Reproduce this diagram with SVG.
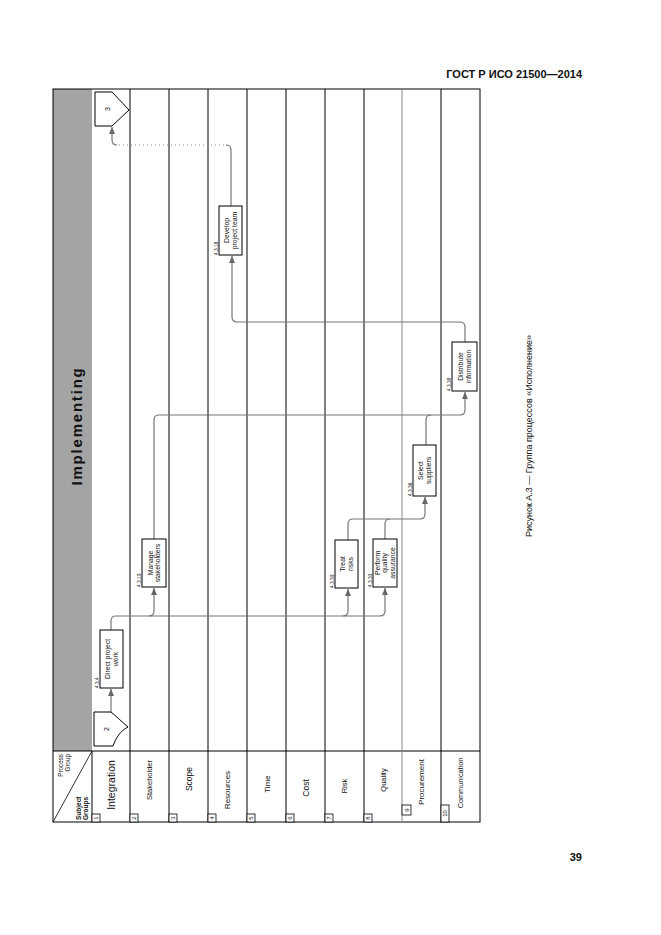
<svg xmlns="http://www.w3.org/2000/svg" width="661" height="935" viewBox="0 0 661 935">
<style>
text{font-family:"Liberation Sans",Arial,sans-serif;fill:#111}
.lane{stroke:#000;stroke-width:1;fill:none}
.box{fill:#fff;stroke:#000;stroke-width:1}
.bt{font-size:6.8px;text-anchor:middle}
.id{font-size:4.8px}
.ln{text-anchor:middle}
.nb{fill:#fff;stroke:#000;stroke-width:0.8}
.nt{font-size:6px;text-anchor:middle}
.con{fill:none;stroke:#777;stroke-width:1.2}
.dot{fill:none;stroke:#888;stroke-width:1.2;stroke-dasharray:1 3}
</style>
<defs>
<marker id="ah" markerWidth="7" markerHeight="6" refX="7" refY="3" orient="auto" markerUnits="userSpaceOnUse"><path d="M0,0 L7,3 L0,6 Z" fill="#666"/></marker>
</defs>
<rect width="661" height="935" fill="#fff"/>

<text x="582" y="78" font-size="11" font-weight="bold" text-anchor="end">ГОСТ Р ИСО 21500—2014</text>
<text x="582" y="861" font-size="11" font-weight="bold" text-anchor="end">39</text>
<text transform="translate(532,436) rotate(-90)" font-size="9" text-anchor="middle">Рисунок А.3 — Группа процессов «Исполнение»</text>

<g id="frame">
<rect x="53" y="89" width="39" height="662" fill="#a4a4a4"/>
<rect x="53" y="89" width="427" height="733" class="lane"/>
<line x1="53" y1="751" x2="480" y2="751" class="lane"/>
<line x1="92" y1="751" x2="92" y2="822" class="lane"/>
<line x1="53" y1="822" x2="92" y2="751" stroke="#000" stroke-width="0.8"/>
<path class="lane" d="M130,89V822M169,89V822M208,89V822M247,89V822M286,89V822M325,89V822M364,89V822M441,89V822"/>
<line x1="402" y1="89" x2="402" y2="822" stroke="#888" stroke-width="1"/>
<text transform="translate(82,426) rotate(-90)" font-size="15" font-weight="bold" letter-spacing="1.8" text-anchor="middle">Implementing</text>
<text transform="translate(63,754) rotate(-90)" font-size="6.3" text-anchor="end">Process<tspan x="0" dy="7.3">Group</tspan></text>
<text transform="translate(81,820) rotate(-90)" font-size="6.5" font-weight="bold">Subject<tspan x="0" dy="7.3">Groups</tspan></text>
</g>

<g id="lanes">
<text class="ln" transform="translate(114.5,785) rotate(-90)" font-size="10.5">Integration</text>
<text class="ln" transform="translate(151.5,780) rotate(-90)" font-size="7.5">Stakeholder</text>
<text class="ln" transform="translate(191.5,779) rotate(-90)" font-size="8.5">Scope</text>
<text class="ln" transform="translate(230,790) rotate(-90)" font-size="8">Resources</text>
<text class="ln" transform="translate(269.5,784) rotate(-90)" font-size="8">Time</text>
<text class="ln" transform="translate(308.5,788) rotate(-90)" font-size="8.5">Cost</text>
<text class="ln" transform="translate(347,786) rotate(-90)" font-size="7.5">Risk</text>
<text class="ln" transform="translate(385.5,780) rotate(-90)" font-size="7.5">Quality</text>
<text class="ln" transform="translate(424,782) rotate(-90)" font-size="8">Procurement</text>
<text class="ln" transform="translate(463,783) rotate(-90)" font-size="7.3">Communication</text>
<rect class="nb" x="92" y="814" width="8" height="8"/><text class="nt" transform="translate(98.2,818) rotate(-90)">1</text>
<rect class="nb" x="130" y="814" width="8" height="8"/><text class="nt" transform="translate(136.2,818) rotate(-90)">2</text>
<rect class="nb" x="169" y="814" width="8" height="8"/><text class="nt" transform="translate(175.2,818) rotate(-90)">3</text>
<rect class="nb" x="208" y="814" width="8" height="8"/><text class="nt" transform="translate(214.2,818) rotate(-90)">4</text>
<rect class="nb" x="247" y="814" width="8" height="8"/><text class="nt" transform="translate(253.2,818) rotate(-90)">5</text>
<rect class="nb" x="286" y="814" width="8" height="8"/><text class="nt" transform="translate(292.2,818) rotate(-90)">6</text>
<rect class="nb" x="325" y="814" width="8" height="8"/><text class="nt" transform="translate(331.2,818) rotate(-90)">7</text>
<rect class="nb" x="364" y="814" width="8" height="8"/><text class="nt" transform="translate(370.2,818) rotate(-90)">8</text>
<rect class="nb" x="402" y="805" width="9" height="10"/><text class="nt" transform="translate(408.7,810) rotate(-90)">9</text>
<rect class="nb" x="441" y="805" width="8" height="17"/><text class="nt" transform="translate(447.2,813.5) rotate(-90)">10</text>
</g>

<g id="connectors">
<path class="con" d="M111,712V689" marker-end="url(#ah)"/>
<path class="con" d="M111,630V621Q111,616 116,616H380Q385,616 385,611V588" marker-end="url(#ah)"/>
<path class="con" d="M149,616Q154,616 154,611V588" marker-end="url(#ah)"/>
<path class="con" d="M343,616Q348,616 348,611V589" marker-end="url(#ah)"/>
<path class="con" d="M154,539V420Q154,415 159,415H460Q465,415 465,410V392" marker-end="url(#ah)"/>
<path class="con" d="M426,445V420Q426,415 431,415"/>
<path class="con" d="M348,540V524Q348,519 353,519H420Q425,519 425,514V497" marker-end="url(#ah)"/>
<path class="con" d="M385,539V524Q385,519 390,519"/>
<path class="con" d="M465,342V327Q465,322 460,322H237Q232,322 232,317V256" marker-end="url(#ah)"/>
<path class="con" d="M231,206V150Q231,145 226,145"/>
<path class="dot" d="M224,145H119"/>
<path class="con" d="M117,145Q112,145 112,140V127" marker-end="url(#ah)"/>
</g>

<g id="node2">
<path class="box" d="M94,712H111C116,716 122,722 128,727C120,731 116,738 113,746H94Z"/>
<text transform="translate(108.5,729) rotate(-90)" font-size="7" text-anchor="middle">2</text>
</g>
<g id="node3">
<path class="box" d="M95,92H112L129,110L112,126H95Z"/>
<text transform="translate(109.5,109) rotate(-90)" font-size="7" text-anchor="middle">3</text>
</g>

<g id="n434">
<rect class="box" x="100" y="630" width="23" height="58"/>
<text class="bt" transform="translate(111.5,659) rotate(-90)" font-size="6.2"><tspan x="0" y="-1.4">Direct project</tspan><tspan x="0" y="6.1">work</tspan></text>
<text class="id" transform="translate(99,688) rotate(-90)">4.3.4</text>
</g>
<g id="n4310">
<rect class="box" x="142" y="539" width="24" height="48"/>
<text class="bt" transform="translate(154,563) rotate(-90)"><tspan x="0" y="-1.4">Manage</tspan><tspan x="0" y="6.1">stakeholders</tspan></text>
<text class="id" transform="translate(141,587) rotate(-90)">4.3.10</text>
</g>
<g id="n4330">
<rect class="box" x="335" y="540" width="23" height="48"/>
<text class="bt" transform="translate(346.5,564) rotate(-90)"><tspan x="0" y="-1.4">Treat</tspan><tspan x="0" y="6.1">risks</tspan></text>
<text class="id" transform="translate(334,588) rotate(-90)">4.3.30</text>
</g>
<g id="n4333">
<rect class="box" x="373" y="539" width="24" height="48"/>
<text class="bt" transform="translate(385,563) rotate(-90)"><tspan x="0" y="-5.2">Perform</tspan><tspan x="0" y="2.3">quality</tspan><tspan x="0" y="9.8">assurance</tspan></text>
<text class="id" transform="translate(372,587) rotate(-90)">4.3.33</text>
</g>
<g id="n4336">
<rect class="box" x="413" y="445" width="23" height="51"/>
<text class="bt" transform="translate(424.5,470.5) rotate(-90)"><tspan x="0" y="-1.4">Select</tspan><tspan x="0" y="6.1">suppliers</tspan></text>
<text class="id" transform="translate(412,496) rotate(-90)">4.3.36</text>
</g>
<g id="n4339">
<rect class="box" x="452" y="342" width="25" height="49"/>
<text class="bt" transform="translate(464.5,366.5) rotate(-90)"><tspan x="0" y="-1.4">Distribute</tspan><tspan x="0" y="6.1">information</tspan></text>
<text class="id" transform="translate(451,391) rotate(-90)">4.3.39</text>
</g>
<g id="n4318">
<rect class="box" x="219" y="206" width="23" height="49"/>
<text class="bt" transform="translate(230.5,230.5) rotate(-90)"><tspan x="0" y="-1.4">Develop</tspan><tspan x="0" y="6.1">project team</tspan></text>
<text class="id" transform="translate(218,255) rotate(-90)">4.3.18</text>
</g>
</svg>
